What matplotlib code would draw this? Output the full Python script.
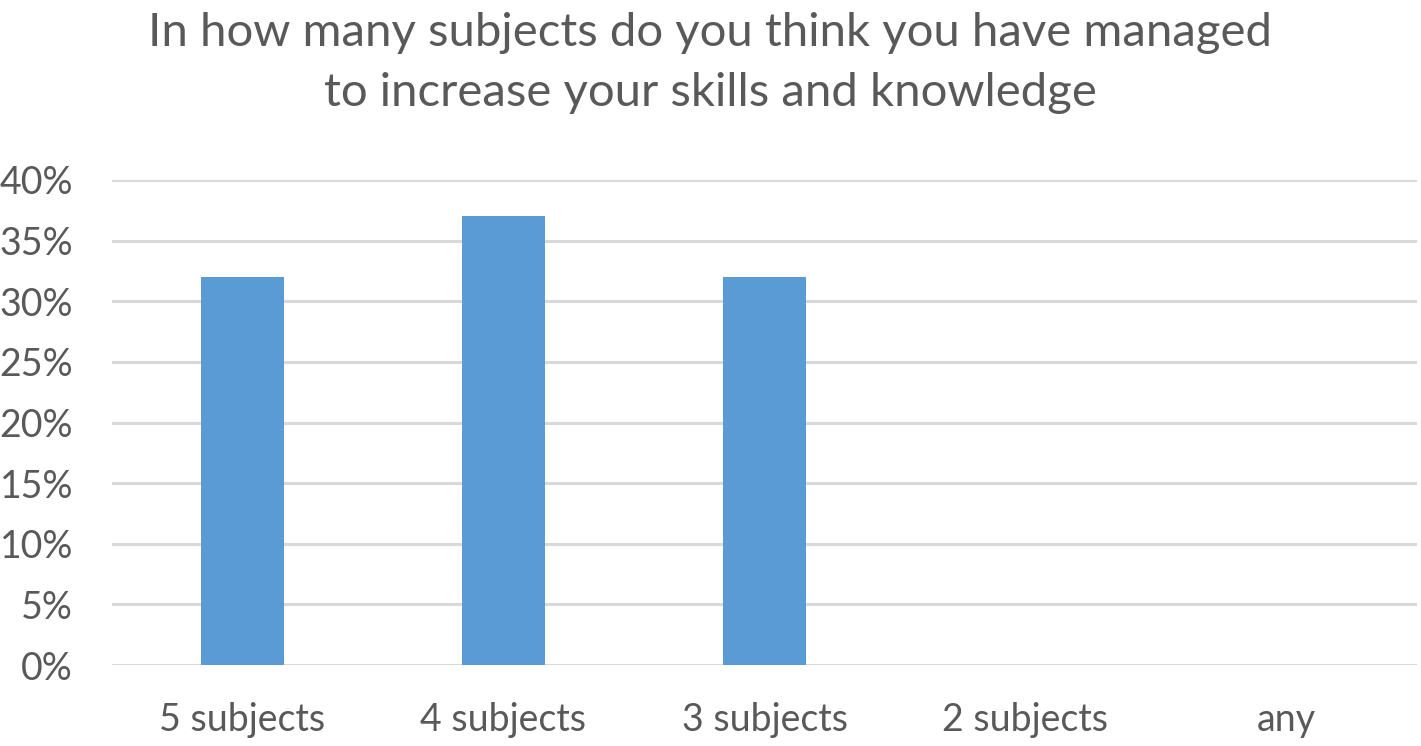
import matplotlib.pyplot as plt
from matplotlib.ticker import FuncFormatter

categories = ['5 subjects', '4 subjects', '3 subjects', '2 subjects', 'any']
shares = [32, 37, 32, 0, 0]
y_ticks = [0, 5, 10, 15, 20, 25, 30, 35, 40]

text_grey = '#595959'
bar_blue = '#5b9bd5'
grid_grey = '#d9d9d9'

plt.rcParams['font.family'] = ['Lato', 'DejaVu Sans']

fig = plt.figure(figsize=(14.21, 7.46), dpi=100)
ax = fig.add_axes([112 / 1421, 1 - 665 / 746, 1305 / 1421, 485 / 746])

x = range(len(categories))
ax.bar(x, shares, width=0.315, color=bar_blue, zorder=3)

ax.set_xlim(-0.5, len(categories) - 0.5)
ax.set_ylim(0, 40)
ax.set_yticks(y_ticks)
ax.yaxis.set_major_formatter(FuncFormatter(lambda v, _: f'{v:.0f}%'))
ax.set_xticks(list(x))
ax.set_xticklabels(categories)

ax.grid(axis='y', color=grid_grey, linewidth=2.2, zorder=0)
for side in ['top', 'right', 'left', 'bottom']:
    ax.spines[side].set_visible(False)
ax.tick_params(axis='both', length=0, colors=text_grey, labelsize=27)
ax.tick_params(axis='y', pad=28)
ax.tick_params(axis='x', pad=27)

fig.text(0.5, 1 - 63 / 746,
         'In how many subjects do you think you have managed\nto increase your skills and knowledge',
         ha='center', va='center', fontsize=34, color=text_grey, linespacing=1.5)

fig.savefig('out.png', dpi=100)
